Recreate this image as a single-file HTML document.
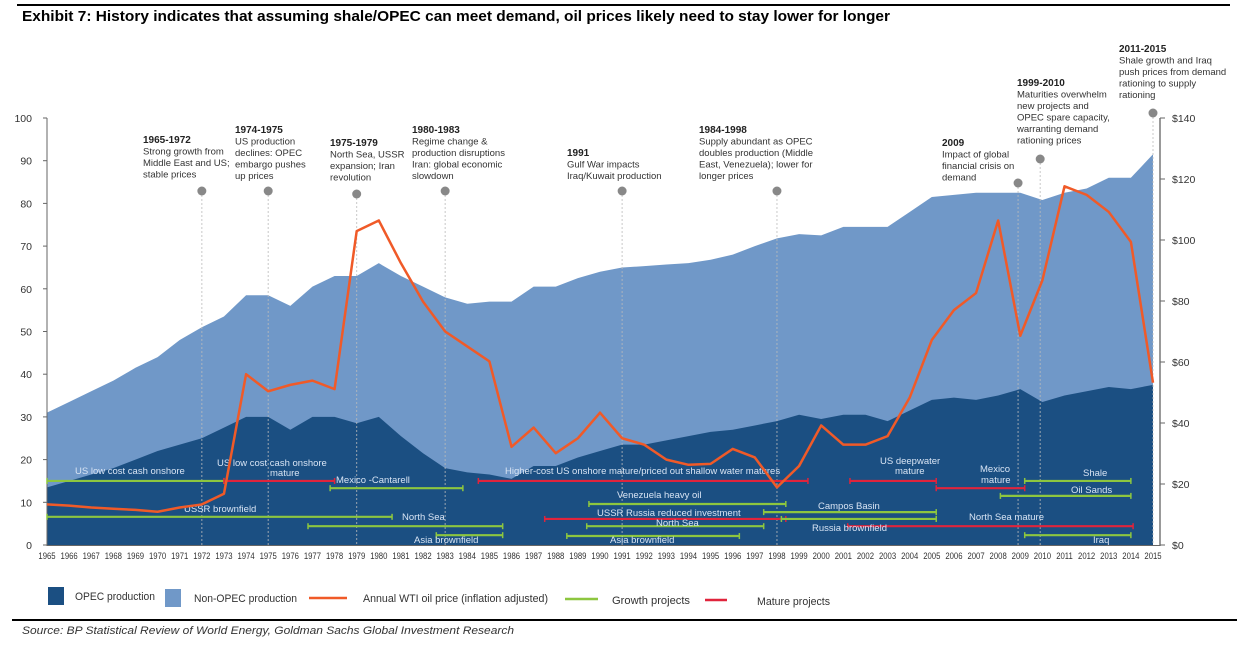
<!DOCTYPE html>
<html><head><meta charset="utf-8">
<style>
body{margin:0;background:#fff;width:1237px;height:659px;overflow:hidden;font-family:"Liberation Sans",sans-serif;}
svg text{font-family:"Liberation Sans",sans-serif;}
</style></head><body>
<svg id="c" width="1237" height="659" viewBox="0 0 1237 659" xmlns="http://www.w3.org/2000/svg">
<line x1="17" y1="5" x2="1230" y2="5" stroke="#000" stroke-width="2"/>
<text x="22" y="21" font-size="15" font-weight="bold" textLength="868" lengthAdjust="spacingAndGlyphs">Exhibit 7: History indicates that assuming shale/OPEC can meet demand, oil prices likely need to stay lower for longer</text>
<line x1="12" y1="620" x2="1237" y2="620" stroke="#000" stroke-width="2"/>
<text x="22" y="634" font-size="11" font-style="italic" fill="#333" textLength="492" lengthAdjust="spacingAndGlyphs">Source: BP Statistical Review of World Energy, Goldman Sachs Global Investment Research</text>
<g id="plot"></g>
<g id="legend">
<rect x="48" y="587" width="16" height="18" fill="#1b4f82"/>
<text x="75" y="600" font-size="11" fill="#333" textLength="80" lengthAdjust="spacingAndGlyphs">OPEC production</text>
<rect x="165" y="589" width="16" height="18" fill="#7098c8"/>
<text x="194" y="602" font-size="11" fill="#333" textLength="103" lengthAdjust="spacingAndGlyphs">Non-OPEC production</text>
<line x1="309" y1="598" x2="347" y2="598" stroke="#f05a28" stroke-width="2.5"/>
<text x="363" y="602" font-size="11" fill="#333" textLength="185" lengthAdjust="spacingAndGlyphs">Annual WTI oil price (inflation adjusted)</text>
<line x1="565" y1="599" x2="598" y2="599" stroke="#8dc63f" stroke-width="2.5"/>
<text x="612" y="604" font-size="11" fill="#333" textLength="78" lengthAdjust="spacingAndGlyphs">Growth projects</text>
<line x1="705" y1="600" x2="727" y2="600" stroke="#e0243c" stroke-width="2.5"/>
<text x="757" y="605" font-size="11" fill="#333" textLength="73" lengthAdjust="spacingAndGlyphs">Mature projects</text>
</g>
</svg>
<script>
const years=[1965,1966,1967,1968,1969,1970,1971,1972,1973,1974,1975,1976,1977,1978,1979,1980,1981,1982,1983,1984,1985,1986,1987,1988,1989,1990,1991,1992,1993,1994,1995,1996,1997,1998,1999,2000,2001,2002,2003,2004,2005,2006,2007,2008,2009,2010,2011,2012,2013,2014,2015];
const totalProd=[31,33.5,36,38.5,41.5,44,48,51,53.5,58.5,58.5,56,60.5,63,63,66,63,60.5,58,56.5,57,57,60.5,60.5,62.5,64,65,65.3,65.7,66,66.8,68,70,71.8,72.8,72.5,74.5,74.5,74.5,78,81.5,82,82.5,82.5,82.5,80.8,82.5,83.5,86,86,91.5];
const opecProd=[13.5,15,16.5,18,20,22,23.5,25,27.5,30,30,27,30,30,28.5,30,25.5,21.5,18,17,16.5,15.5,18.5,18.5,20.5,22,23.5,23.5,24.5,25.5,26.5,27,28,29,30.5,29.5,30.5,30.5,29,31.5,34,34.5,34,35,36.5,33.5,35,36,37,36.5,37.5];
const price=[13.3,12.9,12.3,11.9,11.5,10.9,12.3,13.3,16.8,56,50.4,52.5,53.9,51.1,102.9,106.4,92.4,79.8,70,65.1,60.2,32.2,38.5,30.1,35,43.4,35,32.9,28,26.3,26.6,31.5,28.7,18.9,25.9,39.2,32.9,32.9,35.7,48.3,67.2,77,82.6,106.4,68.6,86.8,117.6,114.8,109.2,99.4,53.2];
const leftTicks=[0,10,20,30,40,50,60,70,80,90,100];
const rightTicks=[0,20,40,60,80,100,120,140];
const projNames=["US low cost cash onshore","US low cost cash onshore mature","Mexico -Cantarell","USSR brownfield","North Sea","Asia brownfield","Higher-cost US onshore mature/priced out shallow water matures","Venezuela heavy oil","USSR Russia reduced investment","North Sea","Asia brownfield","Campos Basin","Campos Basin 2","North Sea mature","US deepwater mature","Mexico mature","Shale","Oil Sands","Iraq"];
const projStart=[1965,1973.0,1977.8,1965,1976.8,1982.6,1984.5,1989.5,1987.5,1989.4,1988.5,1997.4,1998.2,2001.2,2001.3,2005.2,2009.2,2008.1,2009.2];
const projEnd=[1973.0,1978.0,1983.8,1980.6,1985.6,1985.6,1999.4,1998.4,1998.4,1997.4,1996.3,2005.2,2005.2,2014.1,2005.2,2009.2,2014.0,2014.0,2014.0];
const projLevel=[15,15,13.3,6.6,4.4,2.3,15,9.6,6.1,4.4,2.1,7.7,6.1,4.4,15,13.3,15,11.5,2.3];
const projType=["g","m","g","g","g","g","m","g","m","g","g","g","g","m","m","m","g","g","g"];

const NS="http://www.w3.org/2000/svg";
const X=y=>47+22.12*(y-1965);
const Y=v=>545-4.27*v;
const YP=p=>545-3.05*p;
const plot=document.getElementById('plot');
function mk(tag,attrs,parent){const e=document.createElementNS(NS,tag);for(const k in attrs)e.setAttribute(k,attrs[k]);(parent||plot).appendChild(e);return e;}
function narrow(t){const w=t.getComputedTextLength();t.setAttribute('textLength',(w*0.86).toFixed(1));t.setAttribute('lengthAdjust','spacingAndGlyphs');}

let d="M"+X(years[0])+","+Y(0);
years.forEach((yr,i)=>d+=" L"+X(yr)+","+Y(totalProd[i]));
d+=" L"+X(years[years.length-1])+","+Y(0)+"Z";
const a1=mk('path',{d:d,fill:'#7098c8'});


d="M"+X(years[0])+","+Y(0);
years.forEach((yr,i)=>d+=" L"+X(yr)+","+Y(opecProd[i]));
d+=" L"+X(years[years.length-1])+","+Y(0)+"Z";
const a2=mk('path',{d:d,fill:'#1b4f82'});



mk('line',{x1:47,y1:118,x2:47,y2:546,stroke:'#666','stroke-width':1});
mk('line',{x1:1160,y1:118,x2:1160,y2:546,stroke:'#999','stroke-width':2});
mk('line',{x1:47,y1:545.5,x2:1160,y2:545.5,stroke:'#666','stroke-width':1});
leftTicks.forEach(v=>{
  mk('line',{x1:43,y1:Y(v),x2:47,y2:Y(v),stroke:'#666'});
  const t=mk('text',{x:32,y:Y(v)+4,'font-size':10.5,'text-anchor':'end',fill:'#333'});t.textContent=v;
  
  
});
rightTicks.forEach(v=>{
  mk('line',{x1:1160,y1:YP(v),x2:1165,y2:YP(v),stroke:'#666'});
  const t=mk('text',{x:1172,y:YP(v)+4,'font-size':10.5,fill:'#333'});t.textContent="$"+v;
  
  
});
years.forEach(yr=>{
  const t=mk('text',{x:X(yr),y:559,'font-size':9,'text-anchor':'middle',fill:'#333'});t.textContent=yr;
  
  
  narrow(t);
});

const annYears=[1972.0,1975.0,1979.0,1983.0,1991.0,1998.0,2008.9,2009.9,2015.0];
const annPinY=[191,191,194,191,191,191,183,159,113];
const annTitles=["1965-1972","1974-1975","1975-1979","1980-1983","1991","1984-1998","2009","1999-2010","2011-2015"];
const annTexts=[["Strong growth from","Middle East and US;","stable prices"],["US production","declines: OPEC","embargo pushes","up prices"],["North Sea, USSR","expansion; Iran","revolution"],["Regime change &","production disruptions","Iran: global economic","slowdown"],["Gulf War impacts","Iraq/Kuwait production"],["Supply abundant as OPEC","doubles production (Middle","East, Venezuela); lower for","longer prices"],["Impact of global","financial crisis on","demand"],["Maturities overwhelm","new projects and","OPEC spare capacity,","warranting demand","rationing prices"],["Shale growth and Iraq","push prices from demand","rationing to supply","rationing"]];
const annTx=[143,235,330,412,567,699,942,1017,1119];
const annTy=[143,133,146,133,156,133,146,86,52];
annYears.forEach((yr,i)=>{
  const l=mk('line',{x1:X(yr),y1:annPinY[i],x2:X(yr),y2:545,stroke:'#bbb','stroke-width':1,'stroke-dasharray':'2,2',opacity:0.8});
  
  
  const c=mk('circle',{cx:X(yr),cy:annPinY[i],r:4.5,fill:'#888'});
  
  
  const t=mk('text',{x:annTx[i],y:annTy[i],'font-size':10,'font-weight':'bold',fill:'#222'});t.textContent=annTitles[i];
  
  
  annTexts[i].forEach((s,j)=>{
    const u=mk('text',{x:annTx[i],y:annTy[i]+11.5*(j+1),'font-size':9.5,fill:'#333'});u.textContent=s;
    
    
  });
});

projNames.forEach((n,i)=>{
  const col=projType[i]=="g"?'#8dc63f':'#e0243c';
  const y=Y(projLevel[i]);
  const g=mk('g',{});
  
  
  mk('line',{x1:X(projStart[i]),y1:y,x2:X(projEnd[i]),y2:y,stroke:col,'stroke-width':2.2},g);
  mk('line',{x1:X(projStart[i]),y1:y-3,x2:X(projStart[i]),y2:y+3,stroke:col,'stroke-width':1.5},g);
  mk('line',{x1:X(projEnd[i]),y1:y-3,x2:X(projEnd[i]),y2:y+3,stroke:col,'stroke-width':1.5},g);
});
const labTexts=["US low cost cash onshore","US low cost cash onshore","mature","Mexico -Cantarell","USSR brownfield","North Sea","Asia brownfield","Higher-cost US onshore mature/priced out shallow water matures","Venezuela heavy oil","USSR Russia reduced investment","North Sea","Asia brownfield","Campos Basin","Russia brownfield","North Sea mature","US deepwater","mature","Mexico","mature","Shale","Oil Sands","Iraq"];
const labX=[75,217,270,336,184,402,414,505,617,597,656,610,818,812,969,880,895,980,981,1083,1071,1093];
const labY=[474,466,476,483,512,520,543,474,498,516,526,543,509,531,520,464,474,472,483,476,493,543];
labTexts.forEach((s,i)=>{
  const t=mk('text',{x:labX[i],y:labY[i],'font-size':9.5,fill:'#d8e4f4'});t.textContent=s;
  
  
});

let pd="";
years.forEach((yr,i)=>pd+=(i?" L":"M")+X(yr)+","+YP(price[i]));
const pl=mk('path',{d:pd,fill:'none',stroke:'#f05a28','stroke-width':2.5,'stroke-linejoin':'round'});


</script>
</body></html>
